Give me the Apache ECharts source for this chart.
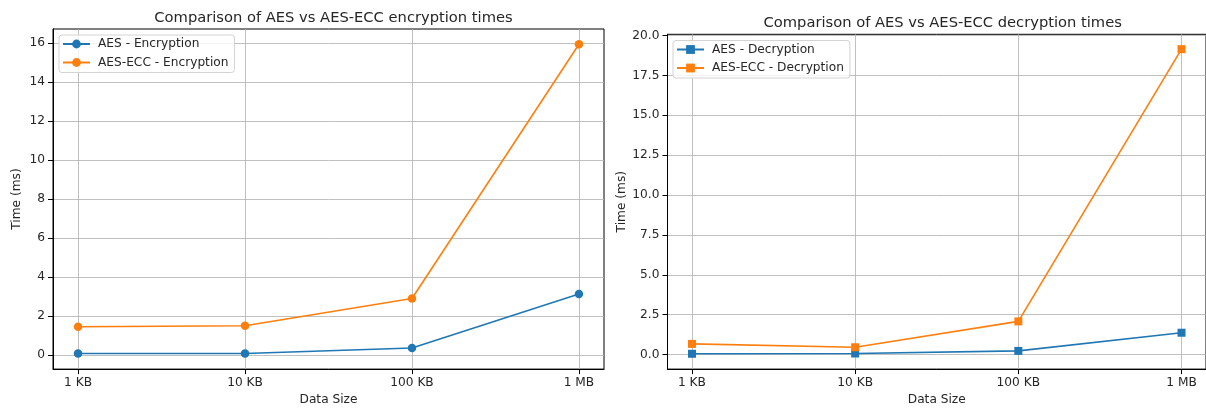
<!DOCTYPE html>
<html>
<head>
<meta charset="utf-8">
<script src="https://cdn.jsdelivr.net/npm/echarts@6/dist/echarts.min.js"></script>
<style>
html,body{margin:0;padding:0;background:#fff;}
#c{width:1206px;height:411px;}
</style>
</head>
<body>
<div id="c"></div>
<script>
const categories = ['1 KB', '10 KB', '100 KB', '1 MB'];
const aesEnc = [0.09, 0.09, 0.37, 3.14];
const eccEnc = [1.46, 1.51, 2.91, 15.95];
const aesDec = [0.05, 0.07, 0.23, 1.37];
const eccDec = [0.67, 0.46, 2.08, 19.15];
const encTicks = [0, 2, 4, 6, 8, 10, 12, 14, 16];
const decTicks = [0, 2.5, 5, 7.5, 10, 12.5, 15, 17.5, 20];
const catIdx = categories.map((c, i) => i);

const BLUE = '#1f77b4', ORANGE = '#ff7f0e';
const FONT = 'DejaVu Sans';
const TXT = '#262626';

const toPts = arr => arr.map((v, i) => [i, v]);

function xAxisCfg(gridIndex) {
  return {
    type: 'value', gridIndex, min: -0.15, max: 3.15,
    name: 'Data Size', nameLocation: 'middle', nameGap: 24,
    nameTextStyle: {fontFamily: FONT, fontSize: 12.2, color: TXT},
    axisLine: {show: true, onZero: false, lineStyle: {color: '#000', width: 1}},
    axisTick: {show: true, length: 5, customValues: catIdx, lineStyle: {color: '#000'}},
    axisLabel: {customValues: catIdx, margin: 8, fontFamily: FONT, fontSize: 12.2, color: TXT,
      formatter: v => categories[Math.round(v)]},
    splitLine: {show: true, lineStyle: {color: '#b0b0b0', width: 0.8}}
  };
}
function yAxisCfg(gridIndex, min, max, ticks, fmt, gap) {
  return {
    type: 'value', gridIndex, min, max,
    name: 'Time (ms)', nameLocation: 'middle', nameGap: gap, nameRotate: 90,
    nameTextStyle: {fontFamily: FONT, fontSize: 12.2, color: TXT},
    axisLine: {show: true, onZero: false, lineStyle: {color: '#000', width: 1}},
    axisTick: {show: true, length: 5, customValues: ticks, lineStyle: {color: '#000'}},
    axisLabel: {customValues: ticks, margin: 8, fontFamily: FONT, fontSize: 12.2, color: TXT,
      formatter: fmt},
    splitLine: {show: true, lineStyle: {color: '#b0b0b0', width: 0.8}}
  };
}
function lineSeries(name, data, color, symbol, xi, yi) {
  return {
    name, type: 'line', xAxisIndex: xi, yAxisIndex: yi, data: toPts(data),
    symbol, symbolSize: symbol === 'circle' ? 8.5 : 8,
    itemStyle: {color}, lineStyle: {color, width: 1.6},
    animation: false
  };
}
function legendCfg(names, left, top) {
  return {
    data: names, left, top, orient: 'vertical',
    itemWidth: 27, itemHeight: 11, itemGap: 6.5,
    padding: [3, 6, 4, 3],
    backgroundColor: 'rgba(255,255,255,0.8)', borderColor: '#d3d3d3', borderWidth: 1, borderRadius: 3,
    textStyle: {fontFamily: FONT, fontSize: 12.2, color: TXT, padding: [0, 0, 0, 3]}
  };
}

const chart = echarts.init(document.getElementById('c'), null, {renderer: 'canvas'});
chart.setOption({
  animation: false,
  backgroundColor: '#fff',
  title: [
    {text: 'Comparison of AES vs AES-ECC encryption times', left: 328.5, top: 6, textAlign: 'center',
      textStyle: {fontFamily: FONT, fontSize: 14.7, fontWeight: 'normal', color: TXT}},
    {text: 'Comparison of AES vs AES-ECC decryption times', left: 937.7, top: 11, textAlign: 'center',
      textStyle: {fontFamily: FONT, fontSize: 14.7, fontWeight: 'normal', color: TXT}}
  ],
  legend: [
    legendCfg(['AES - Encryption', 'AES-ECC - Encryption'], 59, 35),
    legendCfg(['AES - Decryption', 'AES-ECC - Decryption'], 673, 40.5)
  ],
  grid: [
    {left: 53, top: 29, width: 551, height: 342, show: true, borderColor: '#000', borderWidth: 1, backgroundColor: 'transparent'},
    {left: 667.5, top: 34.3, width: 540.5, height: 336.7, show: true, borderColor: '#000', borderWidth: 1, backgroundColor: 'transparent'}
  ],
  xAxis: [xAxisCfg(0), xAxisCfg(1)],
  yAxis: [
    yAxisCfg(0, -0.71, 16.73, encTicks, v => String(v), 30),
    yAxisCfg(1, -0.91, 20.08, decTicks, v => v.toFixed(1), 40)
  ],
  series: [
    lineSeries('AES - Encryption', aesEnc, BLUE, 'circle', 0, 0),
    lineSeries('AES-ECC - Encryption', eccEnc, ORANGE, 'circle', 0, 0),
    lineSeries('AES - Decryption', aesDec, BLUE, 'rect', 1, 1),
    lineSeries('AES-ECC - Decryption', eccDec, ORANGE, 'rect', 1, 1)
  ]
});
</script>
</body>
</html>
